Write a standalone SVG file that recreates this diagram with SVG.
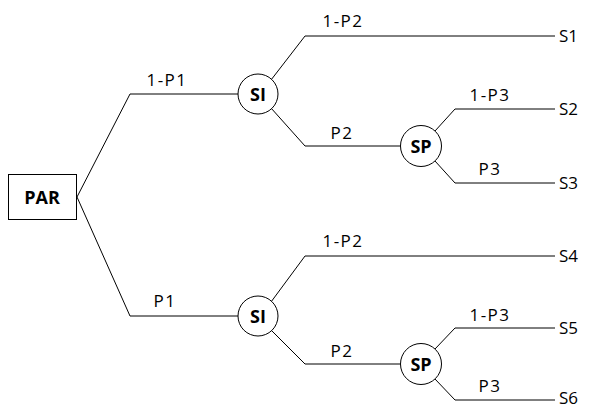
<svg xmlns="http://www.w3.org/2000/svg" width="597" height="409" viewBox="0 0 597 409">
<style>
.c{fill:none;stroke:#000;stroke-width:1}
.n{fill:#fff;stroke:#000;stroke-width:1}
.nl{font-family:"Open Sans","Liberation Sans",sans-serif;font-weight:bold;font-size:18px;text-anchor:middle;dominant-baseline:central;fill:#000}
.l{font-family:"Open Sans","Liberation Sans",sans-serif;font-size:17px;fill:#000;letter-spacing:1.5px}
.s{font-family:"Open Sans","Liberation Sans",sans-serif;font-size:17px;fill:#000}
.m{text-anchor:middle}
</style>
<rect width="597" height="409" fill="#fff"/>
<g id="connectors">
<path class="c" d="M77,197 L130,94 L238,94"/>
<path class="c" d="M77,197 L130,316 L238,316"/>
<path class="c" d="M271,80 L305,36 L555,36"/>
<path class="c" d="M271,108 L305,146 L400,146"/>
<path class="c" d="M435,131 L455,109 L555,109"/>
<path class="c" d="M435,161 L455,183 L555,183"/>
<path class="c" d="M271,302 L305,256 L555,256"/>
<path class="c" d="M271,330 L305,364 L400,364"/>
<path class="c" d="M435,349 L455,328 L555,328"/>
<path class="c" d="M435,379 L455,400 L555,400"/>
</g>
<g id="labels">
<text class="l m" x="167" y="86">1-P1</text>
<text class="l m" x="165" y="307">P1</text>
<text class="l m" x="343" y="27">1-P2</text>
<text class="l m" x="342" y="139">P2</text>
<text class="l m" x="343" y="247">1-P2</text>
<text class="l m" x="342" y="357">P2</text>
<text class="l m" x="490" y="101">1-P3</text>
<text class="l m" x="490" y="175">P3</text>
<text class="l m" x="490" y="321">1-P3</text>
<text class="l m" x="490" y="392">P3</text>
</g>
<g id="PAR"><rect class="n" x="8.5" y="174.5" width="68" height="45"/><text class="nl" x="42" y="197">PAR</text></g>
<g id="SI1"><circle class="n" cx="258" cy="94" r="20"/><text class="nl" x="258" y="94">SI</text></g>
<g id="SP1"><circle class="n" cx="421" cy="146" r="20.5"/><text class="nl" x="421" y="146">SP</text></g>
<g id="SI2"><circle class="n" cx="258" cy="316" r="20"/><text class="nl" x="258" y="316">SI</text></g>
<g id="SP2"><circle class="n" cx="421" cy="364" r="20.5"/><text class="nl" x="421" y="364">SP</text></g>
<g id="S1"><text class="s" x="559" y="42">S1</text></g>
<g id="S2"><text class="s" x="559" y="115">S2</text></g>
<g id="S3"><text class="s" x="559" y="189">S3</text></g>
<g id="S4"><text class="s" x="559" y="262">S4</text></g>
<g id="S5"><text class="s" x="559" y="334">S5</text></g>
<g id="S6"><text class="s" x="559" y="404">S6</text></g>
</svg>
